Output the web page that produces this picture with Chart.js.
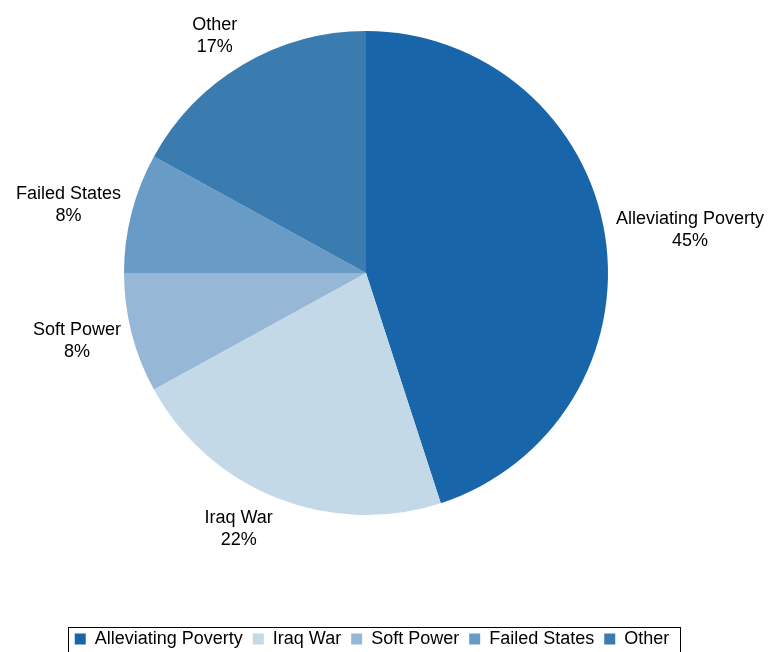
<!DOCTYPE html>
<html>
<head>
<meta charset="utf-8">
<script src="https://cdn.jsdelivr.net/npm/chart.js@4.4.1/dist/chart.umd.min.js"></script>
<style>
  html, body { margin: 0; padding: 0; background: #fff; }
  canvas { display: block; }
</style>
</head>
<body>
<canvas id="reasons-chart" width="772" height="652"></canvas>
<script>
var labels = ['Alleviating Poverty', 'Iraq War', 'Soft Power', 'Failed States', 'Other'];
var shares = [45, 22, 8, 8, 17];
var colors = ['#1866a9', '#c4d9e8', '#96b8d6', '#689bc6', '#3a7cb0'];

var total = shares.reduce((a, b) => a + b, 0);
var fontFamily = '"Liberation Sans", Arial, Helvetica, sans-serif';

Chart.defaults.font.family = fontFamily;
Chart.defaults.color = '#000';

// name + percent written just outside each slice
var outsideLabels = {
    id: 'outsideLabels',
    afterDatasetsDraw(chart) {
        var ctx = chart.ctx;
        var meta = chart.getDatasetMeta(0);
        ctx.save();
        ctx.font = '18px ' + fontFamily;
        ctx.fillStyle = '#000';
        ctx.textAlign = 'center';
        ctx.textBaseline = 'middle';
        meta.data.forEach((arc, i) => {
            var p = arc.getProps(['x', 'y', 'startAngle', 'endAngle', 'outerRadius']);
            var mid = (p.startAngle + p.endAngle) / 2;
            var dx = Math.cos(mid), dy = Math.sin(mid);
            var r = p.outerRadius + 11;
            var ax = p.x + dx * r, ay = p.y + dy * r;
            var lines = [labels[i], Math.round(shares[i] / total * 100) + '%'];
            var w = Math.max(...lines.map(t => ctx.measureText(t).width));
            var h = 44;
            var cx = dx < 0 ? ax - w / 2 : ax + w / 2;
            var cy = ay + dy * h / 2;
            ctx.fillText(lines[0], cx, cy - 11);
            ctx.fillText(lines[1], cx, cy + 11);
        });
        ctx.restore();
    }
};

// push the legend down to the bottom edge and frame it
var legendSpacing = {
    id: 'legendSpacing',
    beforeInit(chart) {
        var fit = chart.legend.fit;
        chart.legend.fit = function () {
            fit.bind(chart.legend)();
            this.height += 99;
        };
    },
    afterLayout(chart) {
        chart.legend.top += 105;
        chart.legend.left += 12;
    },
    afterDraw(chart) {
        var hb = chart.legend.legendHitBoxes;
        if (!hb || !hb.length) return;
        var ctx = chart.ctx;
        var first = hb[0], last = hb[hb.length - 1];
        var left = Math.round(first.left - 7);
        var right = Math.round(last.left + last.width + 11);
        var top = Math.round(first.top + first.height / 2 - 12);
        ctx.save();
        ctx.strokeStyle = '#000';
        ctx.lineWidth = 1;
        ctx.strokeRect(left + 0.5, top + 0.5, right - left, chart.height - top + 5);
        ctx.restore();
    }
};

var ctx = document.getElementById('reasons-chart').getContext('2d');

var reasonsChart = new Chart(ctx, {
    type: 'pie',
    data: {
        labels: labels,
        datasets: [{
            data: shares,
            backgroundColor: colors,
            borderWidth: 0,
            hoverOffset: 0
        }]
    },
    options: {
        responsive: false,
        animation: false,
        layout: {
            padding: { top: 31, right: 40, bottom: 0, left: 0 }
        },
        plugins: {
            legend: {
                position: 'bottom',
                labels: {
                    boxWidth: 11,
                    boxHeight: 11,
                    padding: 10,
                    color: '#000',
                    font: { size: 18 }
                }
            },
            tooltip: { enabled: false }
        }
    },
    plugins: [outsideLabels, legendSpacing]
});
</script>
</body>
</html>
